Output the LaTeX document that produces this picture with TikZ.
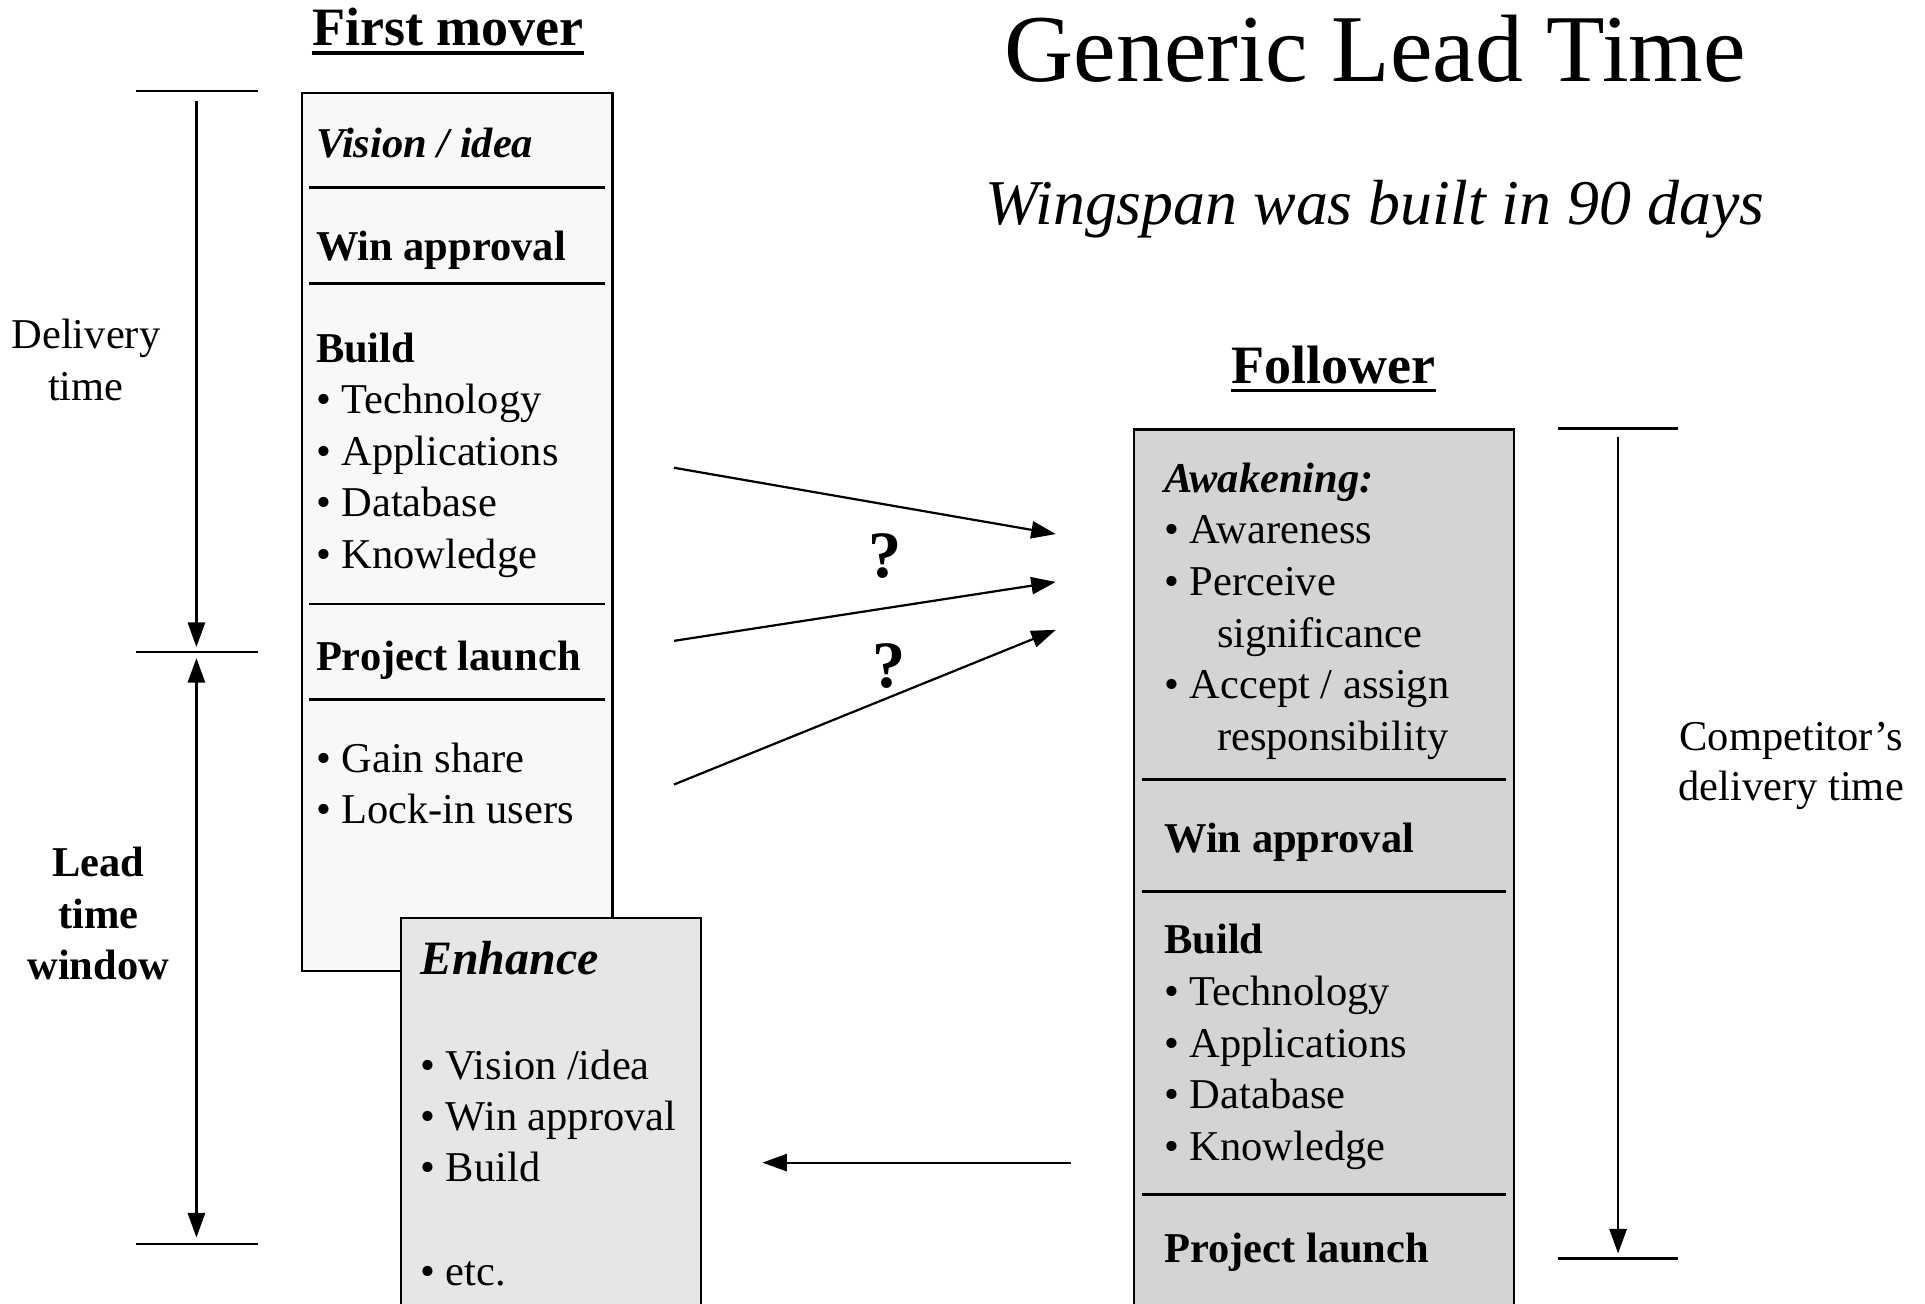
\documentclass[tikz,border=0pt]{standalone}
\usepackage{fontspec}
\setmainfont{Liberation Serif}
\usetikzlibrary{arrows.meta}
\begin{document}
\begin{tikzpicture}[x=0.5pt,y=-0.5pt,
  txt/.style={anchor=base west,inner sep=0pt,font=\fontsize{17.3}{21}\selectfont},
  btxt/.style={anchor=base west,inner sep=0pt,font=\fontsize{17.3}{21}\selectfont\bfseries},
  bitxt/.style={anchor=base west,inner sep=0pt,font=\fontsize{17.3}{21}\selectfont\bfseries\itshape},
  ctr/.style={anchor=base,inner sep=0pt,font=\fontsize{17.3}{21}\selectfont},
  bctr/.style={anchor=base,inner sep=0pt,font=\fontsize{17.3}{21}\selectfont\bfseries},
  sep/.style={line width=1.1pt},
  tick/.style={line width=0.9pt},
  arr/.style={line width=0.9pt,-{Triangle[length=10pt,width=7pt]}},
  dblarr/.style={line width=0.9pt,{Triangle[length=10pt,width=7pt]}-{Triangle[length=10pt,width=7pt]}},
  box/.style={draw,line width=0.9pt,anchor=north west,inner sep=0pt}]
\useasboundingbox (0,0) rectangle (1568,1062);

% titles
\node[anchor=base,inner sep=0pt,font=\fontsize{39}{45}\selectfont] (title) at (1120,66) {Generic Lead Time};
\node[anchor=base,inner sep=0pt,font=\fontsize{26}{30}\selectfont\itshape] (subtitle) at (1120,183) {Wingspan was built in 90 days};
\node[anchor=base,inner sep=0pt,font=\fontsize{22}{26}\selectfont\bfseries] (fmhead) at (365,37) {First mover};
\draw[line width=1.5pt] ([yshift=-3pt]fmhead.base west) -- ([yshift=-3pt]fmhead.base east);
\node[anchor=base,inner sep=0pt,font=\fontsize{22}{26}\selectfont\bfseries] (flhead) at (1086,312) {Follower};
\draw[line width=1.5pt] ([yshift=-3pt]flhead.base west) -- ([yshift=-3pt]flhead.base east);

% first mover box
\node[box,fill={rgb,255:red,248;green,248;blue,248},minimum width=126.5pt,minimum height=357.5pt] (fm) at (245,75) {};
\draw[sep] (252,153) -- (493,153);
\draw[sep] (252,231) -- (493,231);
\draw[sep] (252,492) -- (493,492);
\draw[sep] (252,570) -- (493,570);
\node[bitxt] (fm1) at (257,128) {Vision / idea};
\node[btxt] (fm2) at (257,212) {Win approval};
\node[btxt] (fm3) at (257,295) {Build};
\node[txt] (fm3a) at (257,337) {• Technology};
\node[txt] (fm3b) at (257,379) {• Applications};
\node[txt] (fm3c) at (257,421) {• Database};
\node[txt] (fm3d) at (257,463) {• Knowledge};
\node[btxt] (fm4) at (257,546) {Project launch};
\node[txt] (fm5a) at (257,629) {• Gain share};
\node[txt] (fm5b) at (257,671) {• Lock-in users};

% enhance box
\node[box,fill={rgb,255:red,230;green,230;blue,230},minimum width=122pt,minimum height=165pt] (en) at (326,747) {};
\node[anchor=base west,inner sep=0pt,font=\fontsize{19.5}{23}\selectfont\bfseries\itshape] (en0) at (342,794) {Enhance};
\node[txt] (en1) at (342,879) {• Vision /idea};
\node[txt] (en2) at (342,921) {• Win approval};
\node[txt] (en3) at (342,962) {• Build};
\node[txt] (en4) at (342,1047) {• etc.};

% follower box
\node[box,fill={rgb,255:red,212;green,212;blue,212},minimum width=154.5pt,minimum height=365pt] (fl) at (923,349) {};
\draw[sep] (930,635) -- (1227,635);
\draw[sep] (930,726) -- (1227,726);
\draw[sep] (930,973) -- (1227,973);
\node[bitxt] (fl1) at (948,401) {Awakening:};
\node[txt] (fl1a) at (948,443) {• Awareness};
\node[txt] (fl1b) at (948,485) {• Perceive};
\node[txt] (fl1c) at (991,527) {significance};
\node[txt] (fl1d) at (948,569) {• Accept / assign};
\node[txt] (fl1e) at (991,611) {responsibility};
\node[btxt] (fl2) at (948,694) {Win approval};
\node[btxt] (fl3) at (948,777) {Build};
\node[txt] (fl3a) at (948,819) {• Technology};
\node[txt] (fl3b) at (948,861) {• Applications};
\node[txt] (fl3c) at (948,903) {• Database};
\node[txt] (fl3d) at (948,945) {• Knowledge};
\node[btxt] (fl4) at (948,1028) {Project launch};

% left dimension arrows
\coordinate (t1a) at (111,74);  \coordinate (t1b) at (210,74);
\coordinate (t2a) at (111,531); \coordinate (t2b) at (210,531);
\coordinate (t3a) at (111,1013);\coordinate (t3b) at (210,1013);
\draw[tick] (t1a) -- (t1b);
\draw[tick] (t2a) -- (t2b);
\draw[tick] (t3a) -- (t3b);
\coordinate (d1s) at (160,82); \coordinate (d1e) at (160,527);
\coordinate (d2s) at (160,536); \coordinate (d2e) at (160,1008);
\draw[arr] (d1s) -- (d1e);
\draw[dblarr] (d2s) -- (d2e);
\node[ctr] (del1) at (70,284) {Delivery};
\node[ctr] (del2) at (70,326) {time};
\node[bctr] (lt1) at (80,714) {Lead};
\node[bctr] (lt2) at (80,756) {time};
\node[bctr] (lt3) at (80,798) {window};

% right dimension arrow
\coordinate (r1a) at (1269,349); \coordinate (r1b) at (1367,349);
\coordinate (r2a) at (1269,1025); \coordinate (r2b) at (1367,1025);
\draw[tick] (r1a) -- (r1b);
\draw[tick] (r2a) -- (r2b);
\coordinate (rs) at (1318,356); \coordinate (re) at (1318,1021);
\draw[arr] (rs) -- (re);
\node[ctr] (cd1) at (1459,611) {Competitor’s};
\node[ctr] (cd2) at (1459,652) {delivery time};

% middle arrows
\coordinate (m1s) at (549,381); \coordinate (m1e) at (860,435);
\coordinate (m2s) at (549,522); \coordinate (m2e) at (860,474);
\coordinate (m3s) at (549,639); \coordinate (m3e) at (860,513);
\draw[arr] (m1s) -- (m1e);
\draw[arr] (m2s) -- (m2e);
\draw[arr] (m3s) -- (m3e);
\node[anchor=base,inner sep=0pt,font=\fontsize{27}{30}\selectfont\bfseries] (q1) at (721,470) {?};
\node[anchor=base,inner sep=0pt,font=\fontsize{27}{30}\selectfont\bfseries] (q2) at (724,560) {?};

% return arrow
\coordinate (bs) at (872,947); \coordinate (be) at (621,947);
\draw[arr] (bs) -- (be);
\end{tikzpicture}
\end{document}
